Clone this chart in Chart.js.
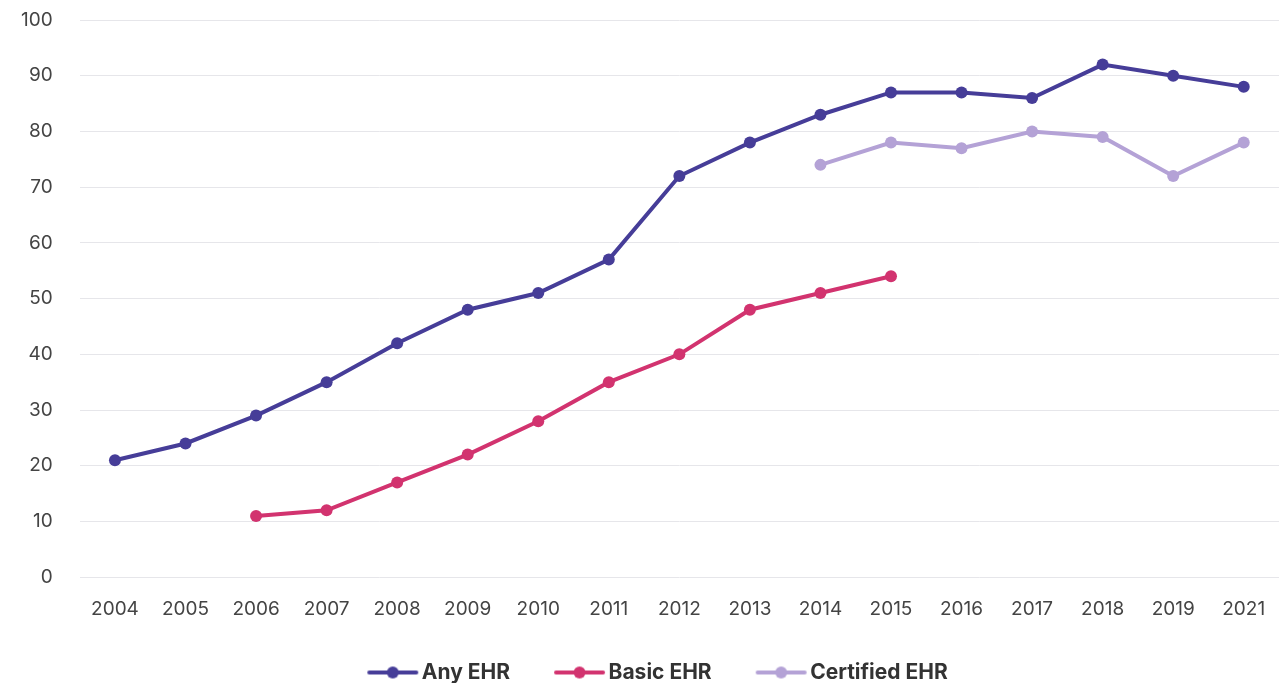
<!DOCTYPE html>
<html lang="en">
<head>
    <meta charset="UTF-8">
    <title>EHR Adoption</title>
    <script src="https://cdn.jsdelivr.net/npm/chart.js"></script>
    <style>
        body {
            margin: 0;
            padding: 0;
            background: #fff;
        }
        #wrap {
            width: 1285px;
            height: 683px;
        }
    </style>
</head>
<body>
    <div id="wrap">
        <canvas id="ehrChart"></canvas>
    </div>

    <script>
        const years = ['2004', '2005', '2006', '2007', '2008', '2009', '2010', '2011', '2012',
                       '2013', '2014', '2015', '2016', '2017', '2018', '2019', '2021'];
        const anyEhr = [21, 24, 29, 35, 42, 48, 51, 57, 72, 78, 83, 87, 87, 86, 92, 90, 88];
        const basicEhr = [null, null, 11, 12, 17, 22, 28, 35, 40, 48, 51, 54, null, null, null, null, null];
        const certifiedEhr = [null, null, null, null, null, null, null, null, null, null, 74, 78, 77, 80, 79, 72, 78];
        const yTicks = [0, 10, 20, 30, 40, 50, 60, 70, 80, 90, 100];

        const colors = {
            any: '#463d98',
            basic: '#d2336f',
            certified: '#b4a2d6'
        };

        // legend marker: short line with a dot in the middle
        function legendMarker(color) {
            const c = document.createElement('canvas');
            c.width = 76;
            c.height = 14;
            const ctx = c.getContext('2d');
            ctx.strokeStyle = color;
            ctx.lineWidth = 4;
            ctx.lineCap = 'round';
            ctx.beginPath();
            ctx.moveTo(26, 7);
            ctx.lineTo(73, 7);
            ctx.stroke();
            ctx.fillStyle = color;
            ctx.beginPath();
            ctx.arc(49.5, 7, 6, 0, Math.PI * 2);
            ctx.fill();
            return c;
        }

        function makeSet(label, data, color) {
            return {
                label: label,
                data: data,
                borderColor: color,
                backgroundColor: color,
                pointBackgroundColor: color,
                pointBorderWidth: 0,
                pointRadius: 6,
                pointStyle: 'circle',
                borderWidth: 4,
                tension: 0
            };
        }

        const chart = new Chart(document.getElementById('ehrChart').getContext('2d'), {
            type: 'line',
            data: {
                labels: years,
                datasets: [
                    makeSet('Any EHR', anyEhr, colors.any),
                    makeSet('Basic EHR', basicEhr, colors.basic),
                    makeSet('Certified EHR', certifiedEhr, colors.certified)
                ]
            },
            options: {
                responsive: true,
                maintainAspectRatio: false,
                animation: false,
                layout: {
                    padding: { left: 18, right: 4, top: 20, bottom: -10 }
                },
                plugins: {
                    tooltip: { enabled: false },
                    legend: {
                        position: 'bottom',
                        labels: {
                            usePointStyle: true,
                            pointStyleWidth: 60,
                            padding: 28,
                            color: '#333',
                            font: { family: 'Inter', size: 21, weight: 'bold' },
                            generateLabels: function(ch) {
                                return ch.data.datasets.map((ds, i) => ({
                                    text: ds.label,
                                    fillStyle: ds.borderColor,
                                    strokeStyle: ds.borderColor,
                                    fontColor: '#333',
                                    lineWidth: 0,
                                    pointStyle: legendMarker(ds.borderColor),
                                    datasetIndex: i,
                                    hidden: false
                                }));
                            }
                        }
                    }
                },
                scales: {
                    x: {
                        offset: true,
                        grid: { display: false },
                        border: { display: false },
                        ticks: {
                            color: '#444',
                            padding: 13,
                            maxRotation: 0,
                            font: { family: 'Inter', size: 19 }
                        }
                    },
                    y: {
                        min: 0,
                        max: 100,
                        afterBuildTicks: function(axis) {
                            axis.ticks = yTicks.map(v => ({ value: v }));
                        },
                        grid: {
                            color: '#e6e6ea',
                            lineWidth: 1,
                            drawTicks: true,
                            tickLength: 24,
                            tickColor: 'rgba(0,0,0,0)'
                        },
                        border: { display: false },
                        ticks: {
                            color: '#444',
                            padding: 3,
                            font: { family: 'Inter', size: 19 }
                        }
                    }
                }
            }
        });
    </script>
</body>
</html>
